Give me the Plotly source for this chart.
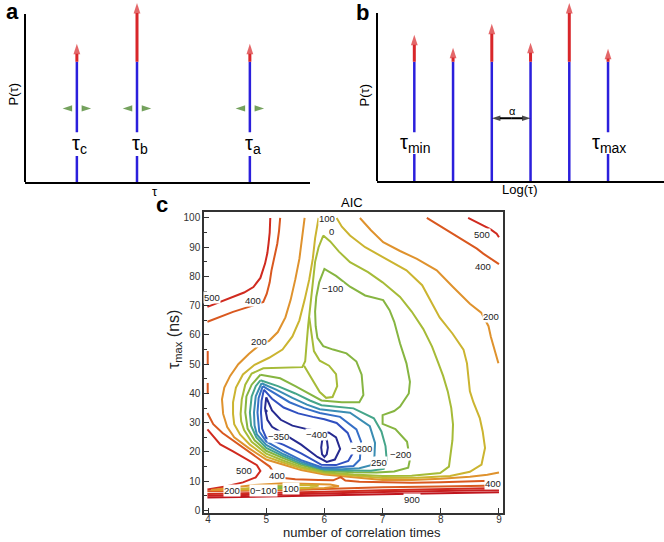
import plotly.graph_objects as go

# ---------------- panel a : discrete correlation times ----------------
a_tau = [1.82, 3.93, 7.89]
a_blue_top = [0.716, 0.716, 0.716]
a_red_top = [0.822, 1.065, 0.822]
a_labels = ["τ<sub>c</sub>", "τ<sub>b</sub>", "τ<sub>a</sub>"]
a_shift_level = 0.438
a_shift_tail = 0.18
a_shift_head = 0.5
a_label_gap = (0.154, 0.296)

# ---------------- panel b : log-spaced grid ----------------
b_tau = [1.3, 2.65, 4.0, 5.35, 6.7, 8.05]
b_blue_top = [0.71, 0.71, 0.71, 0.71, 0.71, 0.71]
b_red_top = [0.87, 0.793, 0.935, 0.822, 1.059, 0.787]
b_labels = {0: "τ<sub>min</sub>", 5: "τ<sub>max</sub>"}
b_label_gap = (0.16, 0.29)
b_alpha_span = (4.0, 5.35)
b_alpha_level = 0.373

# ---------------- panel c : AIC contour lines (x = n corr. times, y = tau_max ns) ----------------
aic_500_upper_left = [(3.99, 69.6), (4.2, 71.2), (4.43, 73.0), (4.62, 74.5), (4.78, 76.4), (4.9, 79.5),
                      (4.98, 84.4), (5.02, 88.0), (5.04, 91.2), (5.06, 95.0), (5.07, 100.0)]
aic_400_upper_left = [(3.99, 64.5), (4.2, 66.2), (4.43, 67.9), (4.7, 69.6), (4.95, 71.3), (5.01, 74.1),
                      (5.06, 78.0), (5.09, 82.0), (5.14, 86.5), (5.19, 91.2), (5.22, 95.5), (5.24, 100.0)]
aic_500_upper_right = [(8.47, 100.0), (8.6, 98.7), (8.73, 97.4), (8.85, 96.2), (8.96, 94.6), (9.0, 93.4)]
aic_400_upper_right = [(7.76, 100.0), (7.96, 97.6), (8.16, 95.1), (8.33, 93.1), (8.5, 91.2), (8.62, 89.5),
                       (8.73, 87.8), (8.88, 85.8), (9.0, 84.2)]
aic_200_right = [(6.61, 100.0), (6.8, 95.8), (7.01, 91.7), (7.3, 88.7), (7.59, 86.0), (7.93, 82.1),
                 (8.21, 76.4), (8.5, 70.7), (8.7, 67.5), (8.82, 63.0), (8.86, 59.4), (8.92, 55.0), (8.99, 50.3)]
aic_200_left = [(5.66, 100.0), (5.62, 93.0), (5.57, 86.0), (5.5, 79.0), (5.42, 72.0), (5.33, 66.0),
                (5.2, 61.0), (5.05, 58.0), (4.88, 56.5), (4.7, 53.5), (4.52, 50.0), (4.38, 46.0),
                (4.28, 42.0), (4.24, 38.0), (4.26, 33.0), (4.33, 28.5), (4.45, 25.0), (4.7, 21.3),
                (5.0, 17.4), (5.3, 15.6), (5.6, 13.8), (6.0, 12.3), (6.5, 11.3), (7.0, 10.4),
                (7.5, 10.4), (8.0, 10.8), (8.5, 11.5), (8.8, 12.2), (9.0, 13.0)]
aic_100 = [(5.9, 100.0), (5.84, 93.0), (5.8, 86.0), (5.74, 79.0), (5.66, 72.0), (5.57, 65.0),
           (5.45, 59.5), (5.28, 55.0), (5.05, 52.2), (4.8, 49.8), (4.6, 46.5), (4.48, 42.0),
           (4.43, 37.0), (4.43, 33.0), (4.45, 29.5), (4.55, 26.0), (4.72, 22.5), (5.0, 18.4),
           (5.3, 16.3), (5.6, 14.4), (6.0, 12.7), (6.5, 11.8), (7.0, 11.1), (7.6, 11.2),
           (8.16, 11.8), (8.5, 13.2), (8.7, 15.7), (8.76, 21.4), (8.72, 27.0), (8.67, 31.6),
           (8.56, 37.0), (8.5, 40.7), (8.47, 46.0), (8.45, 50.3), (8.39, 55.0), (8.2, 60.5),
           (7.98, 66.0), (7.82, 72.0), (7.68, 77.0), (7.41, 82.1), (7.01, 86.6), (6.7, 90.0),
           (6.44, 94.0), (6.3, 97.0), (6.21, 100.0)]
aic_0 = [(5.98, 94.0), (5.9, 90.0), (5.84, 85.0), (5.8, 78.0), (5.76, 70.0), (5.72, 63.0),
         (5.69, 56.0), (5.67, 51.0), (5.62, 49.0), (5.3, 48.7), (4.95, 48.6), (4.75, 46.8),
         (4.64, 43.0), (4.58, 38.0), (4.56, 33.0), (4.57, 30.5), (4.62, 27.5), (4.75, 23.5),
         (5.0, 19.4), (5.3, 17.0), (5.6, 14.9), (6.0, 13.1), (6.5, 12.3), (7.0, 11.8),
         (7.5, 11.9), (7.99, 12.8), (8.14, 15.0), (8.16, 18.0), (8.2, 24.0), (8.21, 29.4),
         (8.18, 35.0), (8.12, 40.7), (8.04, 46.0), (7.96, 50.3), (7.85, 56.0), (7.7, 62.0),
         (7.5, 68.0), (7.3, 73.0), (7.0, 78.0), (6.75, 81.5), (6.44, 84.9), (6.25, 88.5),
         (6.1, 92.0), (5.98, 94.0)]
aic_0_hook = [(5.74, 66.0), (5.79, 59.0), (5.82, 54.5), (5.92, 51.2), (6.08, 49.5), (6.2, 46.6),
              (6.22, 42.5), (6.14, 38.8), (6.03, 38.5), (5.92, 40.5), (5.82, 44.0), (5.72, 47.5),
              (5.65, 49.5)]
aic_m100 = [(4.9, 46.4), (5.24, 45.2), (5.5, 42.5), (5.75, 39.8), (5.95, 37.6), (6.3, 37.0),
            (6.6, 37.0), (6.67, 39.5), (6.66, 43.0), (6.64, 46.4), (6.55, 50.9), (6.38, 53.7),
            (6.15, 55.0), (5.98, 56.2), (5.88, 59.0), (5.85, 63.0), (5.84, 68.0), (5.86, 73.0),
            (5.91, 78.0), (6.0, 82.6), (6.2, 80.2), (6.44, 76.5), (6.7, 73.5), (7.01, 71.9),
            (7.12, 68.5), (7.2, 64.5), (7.3, 57.1), (7.41, 50.3), (7.47, 44.0), (7.45, 40.0),
            (7.3, 35.5), (7.2, 34.0), (7.0, 32.6), (7.0, 29.6), (7.22, 27.8), (7.42, 23.5),
            (7.47, 17.4), (7.44, 14.6), (7.2, 13.3), (6.9, 13.0), (6.5, 13.1), (6.0, 13.5),
            (5.6, 15.5), (5.3, 17.8), (5.0, 20.4), (4.8, 24.0), (4.68, 28.0), (4.64, 33.5),
            (4.66, 39.0), (4.75, 43.0), (4.9, 46.4)]
aic_m200 = [(4.9, 44.5), (5.2, 42.5), (5.5, 40.0), (5.75, 37.6), (5.95, 36.0), (6.5, 34.9),
            (6.85, 31.5), (6.98, 27.0), (7.05, 22.0), (7.07, 17.4), (7.02, 14.2), (6.8, 13.6),
            (6.4, 13.7), (6.0, 13.9), (5.6, 16.0), (5.3, 18.5), (5.0, 21.4), (4.83, 25.0),
            (4.74, 29.0), (4.72, 33.5), (4.75, 39.0), (4.82, 42.5), (4.9, 44.5)]
aic_m250 = [(4.92, 43.5), (5.18, 41.2), (5.45, 38.5), (5.7, 36.2), (5.92, 34.6), (6.44, 33.4),
            (6.78, 28.8), (6.87, 23.1), (6.86, 18.6), (6.8, 15.5), (6.6, 14.4), (6.3, 14.1),
            (5.95, 14.3), (5.6, 16.6), (5.3, 19.2), (5.0, 22.4), (4.84, 26.0), (4.8, 29.0),
            (4.79, 33.5), (4.82, 39.0), (4.92, 43.5)]
aic_m300 = [(4.94, 42.5), (5.15, 40.0), (5.4, 37.0), (5.65, 35.0), (5.92, 33.3), (6.27, 32.0),
            (6.55, 27.7), (6.63, 23.5), (6.61, 17.4), (6.5, 15.2), (6.2, 14.7), (5.95, 14.8),
            (5.6, 17.2), (5.3, 20.2), (5.0, 23.6), (4.88, 27.0), (4.85, 33.5), (4.87, 38.5),
            (4.94, 42.5)]
aic_m350 = [(4.96, 41.3), (5.1, 38.2), (5.3, 35.2), (5.55, 33.2), (5.8, 32.0), (6.0, 31.2),
            (6.21, 29.9), (6.4, 26.5), (6.48, 22.5), (6.49, 19.6), (6.41, 16.9), (6.2, 15.5),
            (5.95, 15.6), (5.6, 19.5), (5.3, 22.4), (5.0, 24.8), (4.93, 28.0), (4.91, 33.5),
            (4.92, 37.5), (4.96, 41.3)]
aic_m400 = [(5.0, 38.7), (5.1, 34.2), (5.25, 31.0), (5.45, 29.0), (5.7, 27.8), (5.9, 27.2),
            (6.08, 26.6), (6.2, 25.0), (6.27, 21.0), (6.18, 17.4), (6.04, 16.6), (5.88, 18.3),
            (5.6, 22.5), (5.3, 26.2), (5.1, 28.6), (5.02, 31.0), (4.98, 35.0), (5.0, 38.7)]
aic_m400_core = [(6.0, 25.2), (6.045, 23.8), (6.06, 21.5), (6.04, 19.2), (6.0, 18.3), (5.96, 19.2),
                 (5.945, 21.5), (5.96, 23.8), (6.0, 25.2)]
aic_min_point = (5.0, 34.0)

aic_500_tongue = [(3.99, 27.7), (4.21, 22.6), (4.43, 20.2), (4.65, 17.6), (4.84, 15.5), (4.9, 13.5),
                  (4.82, 11.3), (4.6, 9.6), (4.3, 8.2), (3.99, 7.2)]
aic_400_lower_left = [(3.99, 33.3), (4.09, 29.5), (4.25, 26.5), (4.45, 23.6), (4.7, 20.0),
                      (4.92, 17.0), (5.06, 15.0), (5.12, 13.2)]
aic_400_lower = [(5.26, 11.2), (5.5, 10.7), (5.9, 10.4), (6.15, 10.3), (6.28, 11.4), (6.36, 10.2),
                 (6.6, 9.8), (7.0, 9.6), (7.5, 9.5), (8.0, 9.6), (8.5, 9.8), (9.0, 10.2)]
aic_400_edge_a = [(3.995, 54.5), (3.995, 49.8)]
aic_400_edge_b = [(3.995, 43.6), (3.995, 39.8)]

aic_band_400 = [(3.99, 6.6), (4.5, 6.7), (5.0, 6.8), (5.5, 7.0), (6.0, 7.3), (6.5, 7.7), (7.0, 7.9),
                (8.0, 8.2), (9.0, 8.5)]
aic_band_500 = [(3.99, 5.6), (5.0, 5.9), (6.0, 6.4), (7.0, 6.9), (8.0, 7.3), (9.0, 7.7)]
aic_band_700 = [(3.99, 5.0), (5.0, 5.3), (6.0, 5.8), (7.0, 6.3), (8.0, 6.7), (9.0, 7.0)]
aic_band_900 = [(3.99, 4.4), (5.0, 4.7), (6.0, 5.1), (7.0, 5.5), (8.0, 5.9), (9.0, 6.2)]

aic_island_200 = [(4.05, 7.0), (4.4, 7.9), (4.8, 8.7), (5.3, 9.3), (5.8, 9.2), (6.1, 8.9), (6.25, 8.3),
                  (6.0, 7.7), (5.5, 7.35), (5.0, 7.1), (4.5, 6.95), (4.05, 7.0)]
aic_island_100 = [(4.55, 7.3), (5.0, 8.2), (5.5, 8.7), (5.9, 8.5), (5.75, 7.8), (5.2, 7.4), (4.55, 7.3)]
aic_island_0 = [(4.8, 7.45), (5.1, 8.1), (5.45, 8.3), (5.55, 7.9), (5.1, 7.5), (4.8, 7.45)]
aic_island_m100 = [(4.98, 7.6), (5.15, 7.95), (5.32, 8.0), (5.28, 7.65), (4.98, 7.6)]

# contour labels: (text, x, y)
aic_labels = [("500", 4.06, 72.7), ("400", 4.77, 71.7), ("200", 4.88, 57.7), ("100", 6.04, 99.7),
              ("0", 6.12, 95.3), ("−100", 6.14, 75.8), ("500", 8.7, 94.2), ("400", 8.73, 83.4),
              ("200", 8.86, 66.2), ("−350", 5.21, 25.4), ("−400", 5.87, 25.8), ("−300", 6.64, 21.1),
              ("250", 6.93, 16.3), ("−200", 7.3, 19.2), ("500", 4.61, 13.7), ("400", 5.19, 11.8),
              ("200", 4.41, 6.9), ("0−100", 4.95, 6.9), ("100", 5.42, 7.5), ("400", 8.9, 9.2),
              ("900", 7.5, 3.8)]

# which level each path belongs to
contour_paths = [
    (900, aic_band_900), (700, aic_band_700), (500, aic_band_500), (400, aic_band_400),
    (500, aic_500_upper_left), (400, aic_400_upper_left), (500, aic_500_upper_right),
    (400, aic_400_upper_right), (200, aic_200_right), (200, aic_200_left), (100, aic_100),
    (0, aic_0), (0, aic_0_hook), (-100, aic_m100), (-200, aic_m200), (-250, aic_m250),
    (-300, aic_m300), (-350, aic_m350), (-400, aic_m400), (-400, aic_m400_core),
    (500, aic_500_tongue), (400, aic_400_lower_left), (400, aic_400_lower),
    (400, aic_400_edge_a), (400, aic_400_edge_b),
    (200, aic_island_200), (100, aic_island_100), (0, aic_island_0), (-100, aic_island_m100),
]

level_colors = {900: "#c0161e", 700: "#c81f20", 500: "#d02a1f", 400: "#d9581f", 200: "#df922d",
                100: "#cbb430", 0: "#a6bb37", -100: "#86b541", -200: "#45a58a", -250: "#3a8db3",
                -300: "#356fc7", -350: "#3050c0", -400: "#262a90"}

STICK_BLUE = "#2b1fdc"
ARROW_RED = "#d8262a"
ARROW_GREEN = "#3a7a1a"
FONT = "Liberation Sans, Arial, sans-serif"
W, H = 664, 542

fig = go.Figure()

# ---- panel c contours
for level, pts in contour_paths:
    xs, ys = zip(*pts)
    fig.add_trace(go.Scatter(x=xs, y=ys, mode="lines", xaxis="x", yaxis="y",
                             line=dict(color=level_colors[level], width=2),
                             hoverinfo="skip", showlegend=False))
fig.add_trace(go.Scatter(x=[aic_min_point[0]], y=[aic_min_point[1]], mode="markers",
                         marker=dict(color=level_colors[-400], size=3),
                         hoverinfo="skip", showlegend=False))


def stick_segments(taus, tops, gaps):
    xs, ys = [], []
    for i, (t, top) in enumerate(zip(taus, tops)):
        gap = gaps.get(i)
        if gap:
            xs += [t, t, None, t, t, None]
            ys += [0, gap[0], None, gap[1], top, None]
        else:
            xs += [t, t, None]
            ys += [0, top, None]
    return xs, ys


def arrow(axes, xs, ys, color, width=2.5, size=11):
    # line from tail to head, arrowhead marker only at the head
    fig.add_trace(go.Scatter(x=xs, y=ys, mode="lines+markers", xaxis=axes[0], yaxis=axes[1],
                             line=dict(color=color, width=width),
                             marker=dict(symbol="arrow", angleref="previous", size=[0, size],
                                         color=color, line=dict(width=0)),
                             cliponaxis=False, hoverinfo="skip", showlegend=False))


# ---- panel a sticks
ax_x, ax_y = stick_segments(a_tau, a_blue_top, {i: a_label_gap for i in range(len(a_tau))})
fig.add_trace(go.Scatter(x=ax_x, y=ax_y, mode="lines", xaxis="x2", yaxis="y2",
                         line=dict(color=STICK_BLUE, width=2.5), hoverinfo="skip", showlegend=False))
for t, b0, r in zip(a_tau, a_blue_top, a_red_top):
    arrow(("x2", "y2"), [t, t], [b0, r], ARROW_RED, 3, 11)
for t in a_tau:
    arrow(("x2", "y2"), [t - a_shift_tail, t - a_shift_head], [a_shift_level] * 2, ARROW_GREEN, 3, 10)
    arrow(("x2", "y2"), [t + a_shift_tail, t + a_shift_head], [a_shift_level] * 2, ARROW_GREEN, 3, 10)

# ---- panel b sticks
bx_x, bx_y = stick_segments(b_tau, b_blue_top, {i: b_label_gap for i in b_labels})
fig.add_trace(go.Scatter(x=bx_x, y=bx_y, mode="lines", xaxis="x3", yaxis="y3",
                         line=dict(color=STICK_BLUE, width=2.5), hoverinfo="skip", showlegend=False))
for t, b0, r in zip(b_tau, b_blue_top, b_red_top):
    arrow(("x3", "y3"), [t, t], [b0, r], ARROW_RED, 3, 11)
alpha_mid = sum(b_alpha_span) / 2
arrow(("x3", "y3"), [alpha_mid, b_alpha_span[0]], [b_alpha_level] * 2, "black", 2, 9)
arrow(("x3", "y3"), [alpha_mid, b_alpha_span[1]], [b_alpha_level] * 2, "black", 2, 9)

annotations = []

# tau labels
for t, lab in zip(a_tau, a_labels):
    annotations.append(dict(x=t, y=sum(a_label_gap) / 2, xref="x2", yref="y2", text=lab,
                            showarrow=False, xshift=3, font=dict(size=20, family=FONT, color="black")))
for i, lab in b_labels.items():
    annotations.append(dict(x=b_tau[i], y=sum(b_label_gap) / 2, xref="x3", yref="y3", text=lab,
                            showarrow=False, xshift=1, font=dict(size=20, family=FONT, color="black")))
annotations.append(dict(x=alpha_mid + 0.06, y=b_alpha_level + 0.045, xref="x3", yref="y3",
                        text="α", showarrow=False, font=dict(size=11, family=FONT, color="black")))

# contour labels
for txt, lx, ly in aic_labels:
    annotations.append(dict(x=lx, y=ly, xref="x", yref="y", text=txt, showarrow=False,
                            bgcolor="white", borderpad=0,
                            font=dict(size=9.5, family=FONT, color="#222")))


def paper_text(px, py, text, size, bold=False, angle=0, color="black", box_h=None):
    ann = dict(x=px / W, y=1 - py / H, xref="paper", yref="paper", text=text,
               showarrow=False, textangle=angle, xanchor="center", yanchor="middle",
               font=dict(size=size, family=FONT, color=color, weight="bold" if bold else "normal"))
    if box_h:
        ann["height"] = box_h
    annotations.append(ann)


paper_text(12, 12, "a", 22, bold=True, box_h=19)
paper_text(362, 12, "b", 22, bold=True, box_h=20)
paper_text(162, 206, "c", 22, bold=True)
paper_text(13, 95, "P(τ)", 13, angle=-90)
paper_text(364, 96, "P(τ)", 13, angle=-90)
paper_text(155, 193, "τ", 13)
paper_text(519, 191, "Log(τ)", 13)
paper_text(352, 204, "AIC", 13)
paper_text(362, 535, "number of correlation times", 13, color="#222")
paper_text(174, 342, "τ<sub>max</sub> (ns)", 16, angle=-90, color="#222")

# y axis lines of the schematic panels (they stop below the tallest arrows)
shapes = [
    dict(type="line", xref="paper", yref="paper", x0=25 / W, x1=25 / W, y0=1 - 183 / H, y1=1 - 14 / H,
         line=dict(color="black", width=2)),
    dict(type="line", xref="paper", yref="paper", x0=377 / W, x1=377 / W, y0=1 - 182 / H, y1=1 - 13 / H,
         line=dict(color="black", width=2)),
]

plain_x = dict(showline=True, linecolor="black", linewidth=2, ticks="", showticklabels=False,
               showgrid=False, zeroline=False, fixedrange=True)
plain_y = dict(showline=False, ticks="", showticklabels=False, showgrid=False, zeroline=False,
               fixedrange=True)
TOP = 1.075  # room above the axis top for the tallest arrows

fig.update_layout(
    width=W, height=H, autosize=False,
    margin=dict(l=0, r=0, t=0, b=0),
    paper_bgcolor="white", plot_bgcolor="white",
    font=dict(family=FONT, color="#222"),
    shapes=shapes,
    xaxis=dict(domain=[204 / W, 503 / W], range=[3.931, 9.069], tickvals=[4, 5, 6, 7, 8, 9],
               ticks="inside", ticklen=5, tickwidth=1, tickcolor="#333", showline=True,
               linecolor="#333", linewidth=1.5, mirror=True, showgrid=False, zeroline=False,
               tickfont=dict(size=10, color="#333"), ticklabelstandoff=-3),
    yaxis=dict(domain=[1 - 515.5 / H, 1 - 213 / H], range=[-0.75, 102.1], tick0=0, dtick=10,
               ticks="inside", ticklen=5, tickwidth=1, tickcolor="#333", showline=True,
               linecolor="#333", linewidth=1.5, mirror=True, showgrid=False, zeroline=False,
               tickfont=dict(size=10, color="#333"),
               minor=dict(dtick=5, ticks="inside", ticklen=3, tickcolor="#333")),
    xaxis2=dict(plain_x, domain=[25 / W, 310 / W], range=[0, 10], anchor="y2"),
    yaxis2=dict(plain_y, domain=[1 - 183 / H, 1 - (183 - 169 * TOP) / H], range=[0, TOP], anchor="x2"),
    xaxis3=dict(plain_x, domain=[377 / W, 1.0], range=[0, 10], anchor="y3"),
    yaxis3=dict(plain_y, domain=[1 - 182 / H, 1 - (182 - 169 * TOP) / H], range=[0, TOP], anchor="x3"),
    annotations=annotations,
)

# the page's default body margin would push the figure 8px off the window
fig.write_html("out.html", config={"displayModeBar": False},
               post_script="document.body.style.margin='0';")
